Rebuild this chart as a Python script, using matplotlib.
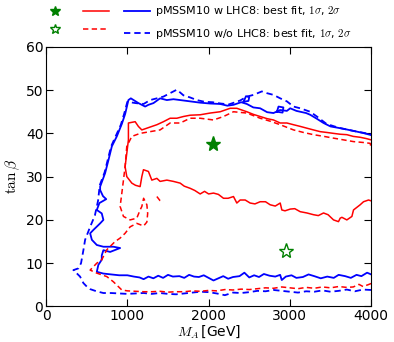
import numpy as np
import matplotlib.pyplot as plt
from matplotlib.lines import Line2D

plt.rcParams['mathtext.fontset'] = 'cm'

# contours, (M_A [GeV], tan beta)
blue_w = [(4000,7.4),(3950,7.8),(3880,7.0),(3820,7.3),(3750,6.6),(3680,7.0),(3600,7.3),(3540,6.6),
          (3460,6.9),(3380,6.5),(3300,7.0),(3230,7.4),(3160,6.8),(3080,6.6),(3020,7.2),(2950,6.9),
          (2900,6.1),(2880,7.3),(2820,6.9),(2750,7.1),(2680,7.5),(2620,6.8),(2560,7.2),(2500,6.7),
          (2440,7.8),(2380,7.0),(2300,6.8),(2240,6.4),(2180,7.0),(2120,6.5),(2060,6.0),(2000,6.6),
          (1940,7.2),(1880,6.8),(1820,6.9),(1760,7.3),(1700,6.6),(1640,7.0),(1560,6.9),(1500,7.3),
          (1440,6.6),(1380,7.1),(1320,6.5),(1260,6.9),(1200,6.3),(1150,6.7),(1080,6.9),(1000,7.2),
          (900,7.2),(800,7.4),(705,7.6),(624,8.0),(643,9.6),(685,10.8),(685,11.8),(705,13.0),
          (788,12.6),(911,13.5),(828,13.8),(705,13.8),(624,14.2),(563,15.4),(542,16.9),(583,17.7),
          (665,19.2),(705,20.0),(685,21.5),(624,22.3),(656,23.9),(740,24.8),(700,25.5),(665,26.9),
          (665,27.7),(726,30.8),(767,33.8),(809,37.0),(870,39.3),(932,42.2),(973,44.5),(1013,47.7),
          (1043,48.1),(1136,47.0),(1219,46.2),(1259,46.6),(1321,47.0),(1403,48.1),(1486,47.7),
          (1567,47.9),(1650,47.7),(1773,47.4),(1896,47.1),(2019,46.9),(2142,46.8),(2230,46.4),
          (2306,46.6),(2400,47.2),(2470,46.8),(2550,46.0),(2634,45.8),(2720,44.9),(2798,44.7),
          (2880,45.4),(2963,45.2),(3004,45.8),(3080,45.2),(3127,45.0),(3200,44.7),(3250,44.3),
          (3330,43.4),(3414,42.4),(3500,41.6),(3619,41.2),(3700,40.9),(3825,40.4),(3900,40.1),
          (4000,39.6)]
blue_w_loop1 = [(2430,47.3),(2460,48.6),(2500,48.4),(2490,47.5),(2430,47.3)]
blue_w_loop2 = [(2840,45.0),(2860,46.2),(2920,46.0),(2910,44.8),(2840,45.0)]

blue_wo = [(4000,3.8),(3900,3.9),(3800,3.5),(3700,3.9),(3600,3.6),(3500,3.4),(3400,3.7),(3300,3.4),
           (3200,3.5),(3100,3.2),(3000,3.4),(2900,3.6),(2800,3.8),(2700,3.5),(2600,3.6),(2500,3.3),
           (2400,3.1),(2300,3.2),(2200,2.6),(2100,3.0),(2000,3.3),(1900,3.4),(1800,3.2),(1700,3.0),
           (1600,2.8),(1500,2.9),(1400,3.1),(1300,2.9),(1200,3.1),(1100,3.0),(1000,2.9),(900,3.0),
           (800,3.1),(705,3.1),(620,3.5),(542,4.0),(500,4.6),(459,5.4),(418,6.9),(380,7.6),(336,8.4),
           (398,8.8),(430,10.0),(459,13.0),(480,15.4),(542,18.4),(600,21.0),(640,24.5),(660,28.0),
           (720,31.0),(760,34.0),(800,37.0),(860,39.5),(920,42.0),(960,44.5),(1000,47.3),(1100,47.0),
           (1200,46.8),(1280,47.7),(1363,48.1),(1444,48.5),(1526,49.3),(1609,50.1),(1690,48.8),
           (1773,48.3),(1855,47.7),(1950,47.3),(2050,47.2),(2150,46.9),(2250,46.7),(2388,47.6),
           (2470,48.5),(2552,48.9),(2655,49.7),(2717,49.3),(2798,48.9),(2881,48.1),(2963,47.4),
           (3045,46.2),(3127,45.8),(3250,45.0),(3332,43.9),(3450,42.2),(3600,41.3),(3800,40.5),
           (4000,39.8)]

red_w = [(4000,24.4),(3968,24.6),(3906,24.2),(3865,23.5),(3783,22.3),(3763,20.8),(3701,20.0),
         (3640,20.6),(3619,20.4),(3598,19.6),(3537,20.0),(3470,21.2),(3414,21.6),(3350,21.0),
         (3291,21.2),(3210,21.6),(3127,21.9),(3060,22.6),(3004,22.5),(2940,22.1),(2901,22.3),
         (2881,23.9),(2820,23.2),(2757,23.5),(2700,24.2),(2634,24.2),(2570,23.7),(2511,23.9),
         (2450,24.6),(2388,24.6),(2347,23.9),(2306,25.4),(2240,25.0),(2183,25.0),(2120,25.9),
         (2060,26.2),(2000,26.0),(1950,26.6),(1896,26.0),(1830,26.8),(1773,27.3),(1700,27.8),
         (1650,28.5),(1567,28.9),(1486,29.2),(1403,28.9),(1363,29.6),(1301,29.2),(1259,31.2),
         (1198,31.6),(1178,30.0),(1157,27.7),(1100,28.0),(1055,28.5),(993,30.0),(972,32.3),
         (993,35.4),(1013,38.5),(1013,42.4),(1096,42.7),(1136,41.6),(1178,40.8),(1240,41.2),
         (1301,41.6),(1363,42.0),(1444,42.7),(1526,43.5),(1609,43.5),(1690,43.9),(1773,44.2),
         (1896,44.3),(2019,44.7),(2142,45.0),(2265,45.8),(2347,45.8),(2470,45.0),(2550,44.4),
         (2634,43.9),(2720,43.4),(2798,43.1),(2881,42.4),(2963,42.4),(3045,42.0),(3130,41.6),
         (3209,41.2),(3290,40.8),(3373,40.4),(3460,40.2),(3537,40.0),(3620,39.8),(3701,39.7),
         (3780,39.3),(3865,39.1),(3940,38.8),(4000,38.5)]

red_wo = [(4000,5.3),(3960,5.0),(3900,4.6),(3850,5.1),(3780,4.5),(3700,4.4),(3600,4.6),(3500,4.3),
          (3400,4.5),(3300,4.2),(3200,4.4),(3100,4.1),(3000,4.3),(2900,4.5),(2800,4.2),(2700,4.3),
          (2600,4.1),(2500,3.9),(2400,4.0),(2300,3.8),(2200,3.9),(2100,3.6),(2000,3.7),(1900,3.5),
          (1800,3.6),(1700,3.4),(1600,3.4),(1500,3.3),(1400,3.5),(1300,3.4),(1200,3.4),(1100,3.5),
          (1000,3.6),(932,3.8),(828,5.7),(747,6.9),(624,7.7),(542,8.4),(624,10.0),(685,10.8),
          (747,13.1),(849,15.0),(911,15.8),(972,16.9),(1034,18.4),(1116,19.2),(1200,18.6),
          (1240,19.5),(1250,21.5),(1240,23.5),(1200,25.0),(1178,23.1),(1157,22.3),(1116,20.4),
          (1034,20.0),(952,20.8),(911,23.1),(932,26.2),(952,29.2),(972,32.3),(993,37.0),(1055,39.3),
          (1157,40.0),(1280,40.4),(1403,40.8),(1526,42.4),(1650,42.4),(1773,43.5),(1896,43.5),
          (2060,43.1),(2183,43.9),(2306,45.0),(2470,44.7),(2634,43.5),(2760,42.8),(2881,42.0),
          (3045,40.8),(3170,40.2),(3291,39.7),(3420,39.3),(3537,38.9),(3660,38.5),(3783,38.1),
          (3900,37.9),(3988,37.7),(4000,36.6)]
red_wo_frag = [(1363,25.4),(1400,24.5),(1444,24.2)]

best_w = (2050, 37.5)
best_wo = (2950, 12.9)

label_w = r'pMSSM10 w LHC8: best fit, $1\sigma$, $2\sigma$'
label_wo = r'pMSSM10 w/o LHC8: best fit, $1\sigma$, $2\sigma$'

fig = plt.figure(figsize=(3.94, 3.42), dpi=100)
ax = fig.add_axes([0.117, 0.104, 0.825, 0.759])

def draw(pts, **kw):
    a = np.array(pts)
    ax.plot(a[:, 0], a[:, 1], **kw)

dash = (0, (3.5, 2.2))
draw(blue_w, color='b', lw=1.3)
draw(blue_w_loop1, color='b', lw=1.3)
draw(blue_w_loop2, color='b', lw=1.3)
draw(blue_wo, color='b', lw=1.3, ls=dash)
draw(red_w, color='r', lw=1.1)
draw(red_wo, color='r', lw=1.1, ls=dash)
draw(red_wo_frag, color='r', lw=1.1, ls=dash)

ax.plot(best_w[0], best_w[1], marker='*', color='g', ms=11, ls='none')
ax.plot(best_wo[0], best_wo[1], marker='*', mfc='none', mec='g', ms=11, ls='none')

ax.set_xlim(0, 4000)
ax.set_ylim(0, 60)
ax.set_xticks([0, 1000, 2000, 3000, 4000])
ax.set_yticks([0, 10, 20, 30, 40, 50, 60])
ax.tick_params(direction='in', top=True, right=True, labelsize=10, length=5, pad=2)
ax.set_xlabel(r'$M_A\,$[GeV]', fontsize=10, labelpad=0)
ax.set_ylabel(r'$\tan\beta$', fontsize=11, labelpad=3)

h = [Line2D([], [], marker='*', color='g', ls='none', ms=7),
     Line2D([], [], marker='*', mfc='none', mec='g', ls='none', ms=7),
     Line2D([], [], color='r', lw=1.1),
     Line2D([], [], color='r', lw=1.1, ls=dash),
     Line2D([], [], color='b', lw=1.3),
     Line2D([], [], color='b', lw=1.3, ls=dash)]
fig.legend(h, ['', '', '', '', label_w, label_wo], ncol=3, loc='center',
           bbox_to_anchor=(0.5, 0.933), frameon=False, fontsize=8,
           handlelength=2.3, handletextpad=0.5, columnspacing=0.9, labelspacing=0.8)

fig.savefig('out.png')
